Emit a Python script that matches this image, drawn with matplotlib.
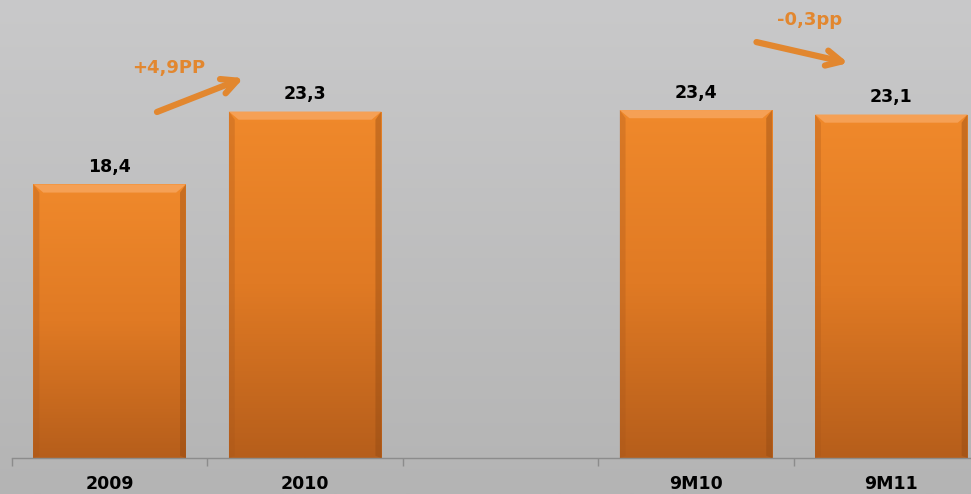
import numpy as np
import matplotlib.pyplot as plt
from matplotlib.colors import LinearSegmentedColormap
from matplotlib.patches import Rectangle, Polygon

# Donnees
categories = ['2009', '2010', '', '9M10', '9M11']
values = [18.4, 23.3, None, 23.4, 23.1]
labels = ['18,4', '23,3', '', '23,4', '23,1']

W, H = 971, 494
fig = plt.figure(figsize=(W / 100, H / 100), dpi=100)

# fond gris degrade
bg = fig.add_axes([0, 0, 1, 1])
bg.imshow(np.linspace(0, 1, 256).reshape(-1, 1), aspect='auto', extent=[0, 1, 0, 1],
          cmap=LinearSegmentedColormap.from_list('bg', ['#c9c9ca', '#b4b4b4']))
bg.axis('off')

ax = fig.add_axes([12 / W, 36 / H, 977 / W, 458 / H])
ax.patch.set_alpha(0)
ymax = 458 / 14.87
ax.set_xlim(-0.5, 4.5)
ax.set_ylim(0, ymax)

bar_cmap = LinearSegmentedColormap.from_list('bar', ['#f0892b', '#e07a24', '#b65e1b'])
width = 0.78
for i, v in enumerate(values):
    if v is None:
        continue
    x0 = i - width / 2
    rect = Rectangle((x0, 0), width, v, facecolor='none', edgecolor='none')
    ax.add_patch(rect)
    im = ax.imshow(np.linspace(0, 1, 256).reshape(-1, 1), aspect='auto', cmap=bar_cmap,
                   extent=[x0, x0 + width, 0, v], zorder=2)
    im.set_clip_path(rect)
    # biseau
    bx = 0.05
    by = 0.55
    ax.add_patch(Polygon([[x0, v], [x0 + width, v], [x0 + width - bx, v - by], [x0 + bx, v - by]],
                         closed=True, facecolor='#f5a055', edgecolor='none', zorder=3))
    ax.add_patch(Polygon([[x0, v], [x0 + bx * 0.6, v - by], [x0 + bx * 0.6, 0.15], [x0, 0]],
                         closed=True, facecolor='#a8561a', alpha=0.3, edgecolor='none', zorder=3))
    ax.add_patch(Polygon([[x0 + width, v], [x0 + width - bx * 0.6, v - by],
                          [x0 + width - bx * 0.6, 0.15], [x0 + width, 0]],
                         closed=True, facecolor='#8f4812', alpha=0.4, edgecolor='none', zorder=3))
    ax.text(i, v + 0.55, labels[i], ha='center', va='bottom', fontsize=12.5,
            fontweight='bold', color='black', zorder=4)

for s in ['top', 'right', 'left']:
    ax.spines[s].set_visible(False)
ax.spines['bottom'].set_color('#8c8c8c')
ax.spines['bottom'].set_linewidth(1)
ax.set_yticks([])
ax.set_xticks(np.arange(-0.5, 5, 1))
ax.set_xticklabels([])
ax.tick_params(axis='x', length=6, color='#8c8c8c', width=1)
for i, c in enumerate(categories):
    ax.text(i, -26 / 14.87, c, ha='center', va='center', fontsize=12.5,
            fontweight='bold', color='black', clip_on=False)

# fleches de variation
orange = '#e2872f'
ax.annotate('', xy=(0.685, 25.55), xytext=(0.242, 23.27),
            arrowprops=dict(arrowstyle='->,head_length=1.1,head_width=0.55', lw=4.5,
                            color=orange, shrinkA=0, shrinkB=0))
ax.text(0.30, 26.2, '+4,9PP', ha='center', va='center', fontsize=13,
        fontweight='bold', color=orange)
ax.annotate('', xy=(3.78, 26.56), xytext=(3.31, 27.97),
            arrowprops=dict(arrowstyle='->,head_length=1.1,head_width=0.55', lw=4.5,
                            color=orange, shrinkA=0, shrinkB=0))
ax.text(3.58, 29.45, '-0,3pp', ha='center', va='center', fontsize=13,
        fontweight='bold', color=orange)

fig.savefig('out.png', dpi=100)
